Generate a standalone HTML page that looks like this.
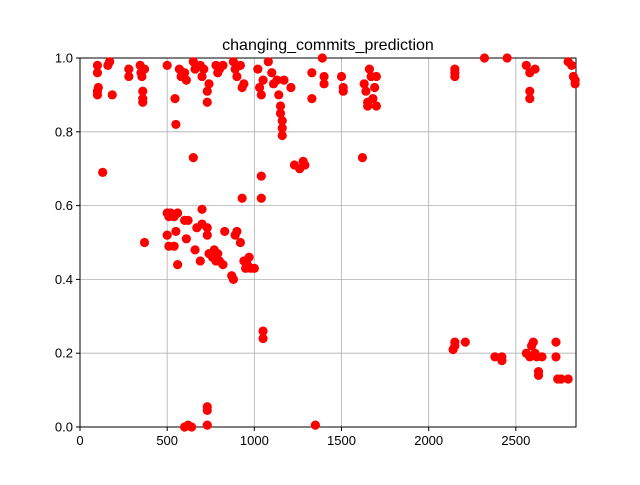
<!DOCTYPE html>
<html><head><meta charset="utf-8"><style>body{margin:0;background:#fff}svg{font-family:"Liberation Sans","DejaVu Sans",sans-serif}</style></head>
<body>
<svg id="chart" width="640" height="480">
<rect x="0" y="0" width="640" height="480" fill="#fff"/>
<g id="grid"></g>
<rect x="80" y="58" width="496" height="369" fill="none" stroke="#000" stroke-width="1"/>
<g id="pts"></g>
<g id="ticks"></g>
<text x="328" y="50" text-anchor="middle" font-size="16">changing_commits_prediction</text>
</svg>
<script>
const xTicks=[0,500,1000,1500,2000,2500];
const yTicks=[0,0.2,0.4,0.6,0.8,1.0];
const yTickLabels=["0.0","0.2","0.4","0.6","0.8","1.0"];
const xs=[100,100,100,100,105,130,160,170,185,280,280,345,350,355,360,360,360,370,370,500,545,550,570,580,600,610,650,650,660,690,700,710,730,730,740,780,790,800,820,880,890,900,920,930,940,1020,1030,1040,1050,1080,1100,1110,1130,1140,1150,1150,1160,1160,1160,1170,1210,1230,1260,1280,1290,1330,1330,1390,1400,1400,1500,1510,1510,1620,1630,1640,1650,1650,1660,1670,1680,1690,1700,1700,2150,2150,2150,2320,2450,2560,2580,2580,2580,2610,2800,2820,2830,2840,2840,
500,510,520,540,560,500,510,540,550,560,600,610,620,660,670,690,700,700,730,730,740,760,770,780,790,800,820,830,870,880,890,900,920,930,940,950,960,970,980,1000,1040,1040,1050,1050,
600,620,640,730,730,730,1350,
2140,2150,2150,2210,2380,2420,2420,2560,2580,2590,2600,2610,2620,2630,2630,2650,2730,2730,2740,2760,2800];
const ys=[0.98,0.96,0.91,0.90,0.92,0.69,0.98,0.99,0.90,0.97,0.95,0.98,0.96,0.95,0.91,0.89,0.88,0.97,0.50,0.98,0.89,0.82,0.97,0.95,0.96,0.94,0.99,0.73,0.97,0.98,0.95,0.97,0.91,0.88,0.93,0.98,0.96,0.97,0.98,0.99,0.97,0.95,0.98,0.92,0.93,0.97,0.92,0.90,0.94,0.99,0.96,0.93,0.94,0.90,0.87,0.85,0.83,0.81,0.79,0.94,0.92,0.71,0.70,0.72,0.71,0.96,0.89,1.0,0.95,0.93,0.95,0.92,0.91,0.73,0.93,0.91,0.88,0.87,0.97,0.95,0.89,0.92,0.95,0.87,0.97,0.95,0.96,1.0,1.0,0.98,0.96,0.91,0.89,0.97,0.99,0.98,0.95,0.93,0.94,
0.58,0.57,0.58,0.57,0.58,0.52,0.49,0.49,0.53,0.44,0.56,0.51,0.56,0.48,0.54,0.45,0.55,0.59,0.52,0.54,0.47,0.46,0.48,0.45,0.47,0.45,0.44,0.53,0.41,0.40,0.52,0.53,0.50,0.62,0.45,0.43,0.44,0.46,0.43,0.43,0.68,0.62,0.26,0.24,
0.0,0.005,0.0,0.055,0.045,0.005,0.005,
0.21,0.23,0.22,0.23,0.19,0.18,0.19,0.20,0.19,0.22,0.23,0.20,0.19,0.15,0.14,0.19,0.23,0.19,0.13,0.13,0.13];
const X0=80,X1=576,Y0=427,Y1=58,XMAX=2845;
const sx=v=>X0+v/XMAX*(X1-X0);
const sy=v=>Y0-v*(Y0-Y1);
const NS="http://www.w3.org/2000/svg";
const grid=document.getElementById('grid'),tk=document.getElementById('ticks'),pts=document.getElementById('pts');
function mk(tag,attrs,parent){const e=document.createElementNS(NS,tag);for(const k in attrs)e.setAttribute(k,attrs[k]);parent.appendChild(e);return e;}
xTicks.forEach(t=>{const x=sx(t);
const g=mk('line',{x1:x,x2:x,y1:Y1,y2:Y0,stroke:'#b0b0b0','stroke-width':0.8},grid);


mk('line',{x1:x,x2:x,y1:Y0,y2:Y0+4,stroke:'#000'},tk);
const l=mk('text',{x:x,y:Y0+18,'text-anchor':'middle','font-size':13},tk);l.textContent=t;

});
yTicks.forEach((t,i)=>{const y=sy(t);
const g=mk('line',{x1:X0,x2:X1,y1:y,y2:y,stroke:'#b0b0b0','stroke-width':0.8},grid);


mk('line',{x1:X0-4,x2:X0,y1:y,y2:y,stroke:'#000'},tk);
const l=mk('text',{x:X0-7,y:y+4.5,'text-anchor':'end','font-size':13},tk);l.textContent=yTickLabels[i];

});
xs.forEach((v,i)=>{const c=mk('circle',{cx:sx(v),cy:sy(ys[i]),r:4.6,fill:'#ff0000'},pts);

});
</script>
</body></html>
